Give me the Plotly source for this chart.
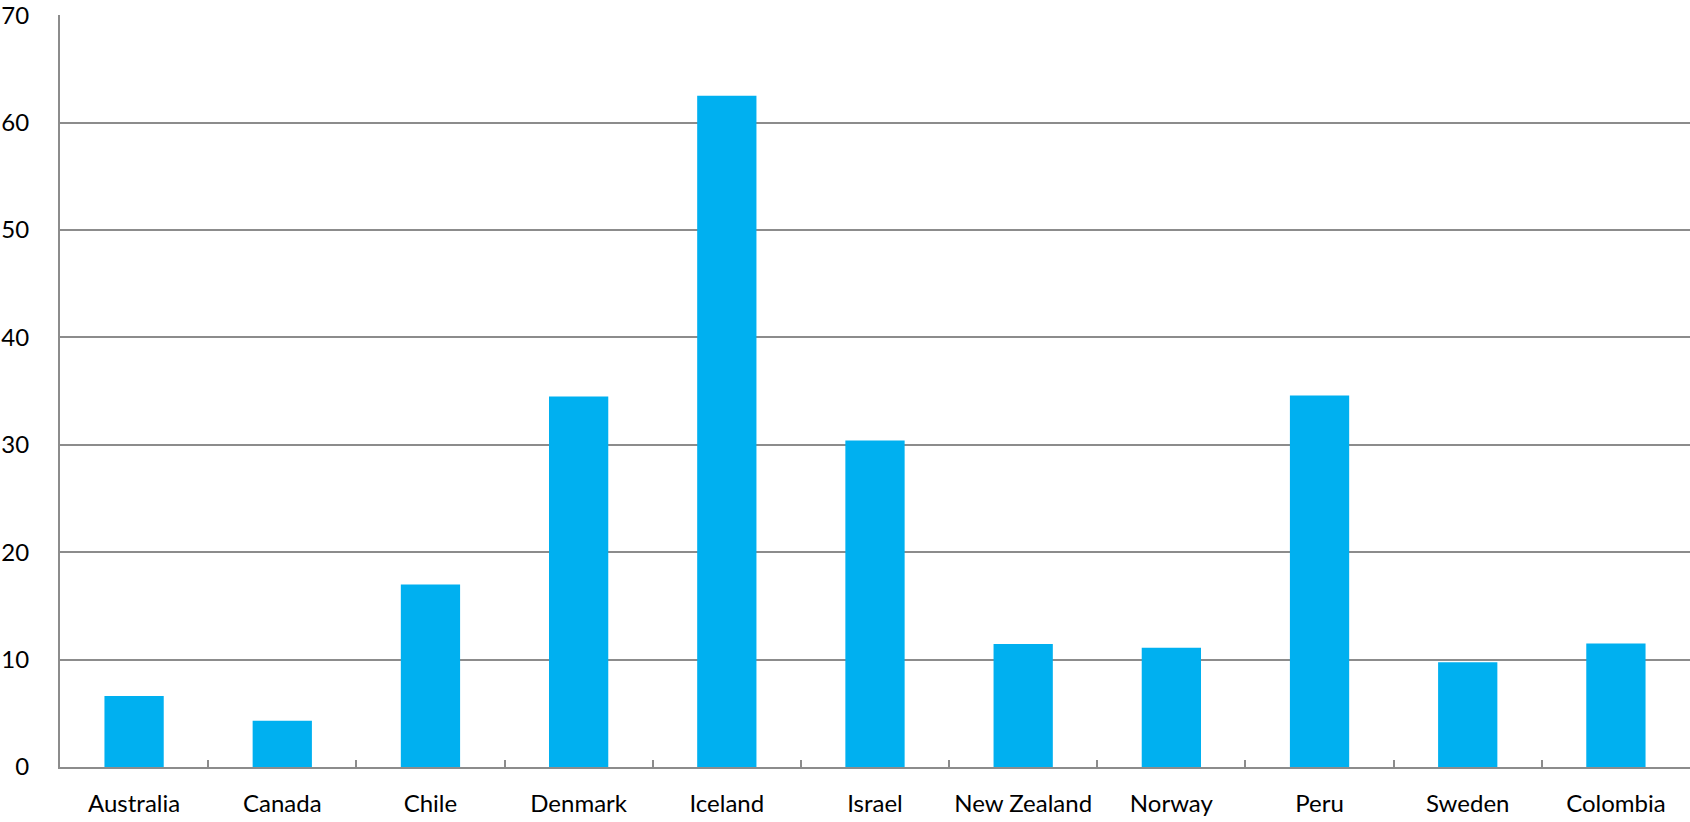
import plotly.graph_objects as go

countries = ["Australia", "Canada", "Chile", "Denmark", "Iceland", "Israel",
             "New Zealand", "Norway", "Peru", "Sweden", "Colombia"]
values = [6.6, 4.3, 17.0, 34.5, 62.5, 30.4, 11.45, 11.1, 34.6, 9.75, 11.5]
y_ticks = [0, 10, 20, 30, 40, 50, 60, 70]

grid_color = "#8c8c8c"
bar_color = "#00B0F0"
font_family = "Lato, 'Open Sans', sans-serif"
font_size = 24

fig = go.Figure(
    go.Bar(
        x=countries,
        y=values,
        marker=dict(color=bar_color, line=dict(width=0)),
        width=0.4,
    )
)

fig.update_layout(
    width=1690,
    height=822,
    margin=dict(l=60, r=0, t=15, b=55),
    paper_bgcolor="white",
    plot_bgcolor="white",
    showlegend=False,
    font=dict(family=font_family, size=font_size, color="black"),
)

fig.update_xaxes(
    type="category",
    showline=True,
    linecolor=grid_color,
    linewidth=2,
    showgrid=False,
    ticks="inside",
    tickson="boundaries",
    ticklen=7,
    tickwidth=2,
    tickcolor=grid_color,
    ticklabelstandoff=14,
    tickfont=dict(family=font_family, size=font_size, color="black"),
)

fig.update_yaxes(
    range=[0, 70.02],
    tickvals=y_ticks,
    showline=True,
    linecolor=grid_color,
    linewidth=2,
    showgrid=True,
    gridcolor=grid_color,
    gridwidth=2,
    zeroline=False,
    ticks="",
    ticklabeloverflow="allow",
    ticklabelstandoff=24,
    tickfont=dict(family=font_family, size=font_size, color="black"),
)

fig.write_html("out.html")
